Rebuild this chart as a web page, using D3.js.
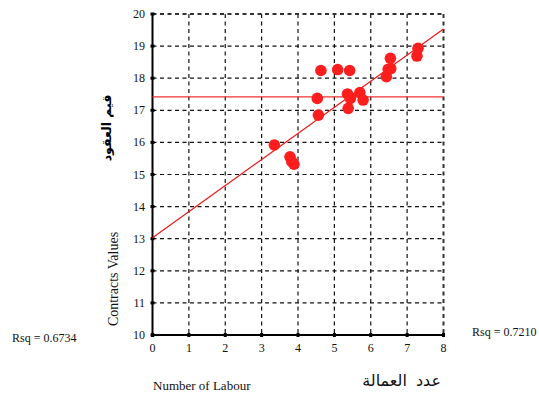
<!DOCTYPE html>
<html>
<head>
<meta charset="utf-8">
<script src="https://cdn.jsdelivr.net/npm/d3@7"></script>
<style>
  html, body { margin: 0; padding: 0; background: #fff; }
  svg { display: block; }
</style>
</head>
<body>
<svg id="chart" width="539" height="399"></svg>
<script>
// Observations: number of labour vs contract values
const labour = [3.35, 3.78, 3.83, 3.89, 4.53, 4.56, 4.63, 5.09, 5.42, 5.36, 5.44, 5.38, 5.70, 5.79, 6.43, 6.48, 6.55, 6.54, 7.30, 7.27];
const contracts = [15.92, 15.55, 15.40, 15.32, 17.37, 16.85, 18.24, 18.27, 18.24, 17.51, 17.37, 17.06, 17.55, 17.32, 18.05, 18.28, 18.30, 18.62, 18.93, 18.69];

// Fitted line and mean reference line
const fitIntercept = 13.03;
const fitSlope = 0.8125;
const meanContracts = 17.42;

// Axis ticks
const xTicks = [0, 1, 2, 3, 4, 5, 6, 7, 8];
const yTicks = [10, 11, 12, 13, 14, 15, 16, 17, 18, 19, 20];

const svg = d3.select("#chart");
const x = d3.scaleLinear().domain([0, 8]).range([152.5, 443.5]);
const y = d3.scaleLinear().domain([10, 20]).range([335, 14]);

const serif = "'Liberation Serif', 'Times New Roman', serif";

// Dashed grid
const grid = svg.append("g");
grid.selectAll(".vg").data(xTicks.slice(1)).join("line")
  .attr("x1", d => x(d)).attr("x2", d => x(d))
  .attr("y1", y(20)).attr("y2", y(10))
  .attr("stroke", d => d === 8 ? "#333" : "#111")
  .attr("stroke-width", d => d === 8 ? 2 : 1.2)
  .attr("stroke-dasharray", "4,3.5");
grid.selectAll(".hg").data(yTicks.slice(1)).join("line")
  .attr("x1", x(0)).attr("x2", x(8))
  .attr("y1", d => y(d)).attr("y2", d => y(d))
  .attr("stroke", d => d === 20 ? "#333" : "#111")
  .attr("stroke-width", d => d === 20 ? 2 : 1.2)
  .attr("stroke-dasharray", "4,3.5");

// Solid left and bottom axes
svg.append("line").attr("x1", x(0)).attr("x2", x(0)).attr("y1", y(20)).attr("y2", y(10))
  .attr("stroke", "#000").attr("stroke-width", 2);
svg.append("line").attr("x1", x(0)).attr("x2", x(8)).attr("y1", y(10)).attr("y2", y(10))
  .attr("stroke", "#000").attr("stroke-width", 2);

// Tick marks
svg.selectAll(".ytm").data(yTicks).join("rect")
  .attr("x", x(0) - 2).attr("y", d => y(d) - 1.5).attr("width", 4).attr("height", 3).attr("fill", "#000");
svg.selectAll(".xtm").data(xTicks).join("rect")
  .attr("x", d => x(d) - 1.5).attr("y", y(10) - 2).attr("width", 3).attr("height", 4).attr("fill", "#000");

// Tick labels
svg.selectAll(".ytl").data(yTicks).join("text")
  .attr("x", 145).attr("y", d => y(d) + 4)
  .attr("text-anchor", "end").attr("font-family", serif).attr("font-size", 12)
  .attr("fill", "#111").text(d => d);
svg.selectAll(".xtl").data(xTicks).join("text")
  .attr("x", d => x(d)).attr("y", 352)
  .attr("text-anchor", "middle").attr("font-family", serif).attr("font-size", 12)
  .attr("fill", "#111").text(d => d);

// Mean line
svg.append("line").attr("x1", x(0)).attr("x2", x(8))
  .attr("y1", y(meanContracts)).attr("y2", y(meanContracts))
  .attr("stroke", "#f03030").attr("stroke-width", 1.3);

// Regression line
svg.append("line")
  .attr("x1", x(0)).attr("y1", y(fitIntercept))
  .attr("x2", x(8)).attr("y2", y(fitIntercept + fitSlope * 8))
  .attr("stroke", "#f01818").attr("stroke-width", 1.2);

// Points
svg.selectAll(".pt").data(labour.map((d, i) => [d, contracts[i]])).join("circle")
  .attr("cx", d => x(d[0])).attr("cy", d => y(d[1])).attr("r", 5.8)
  .attr("fill", "#ff1e1e");

// Axis titles
svg.append("text")
  .attr("transform", "translate(111,128) rotate(-90)")
  .attr("text-anchor", "middle").attr("font-family", "'DejaVu Sans', sans-serif")
  .attr("font-weight", "bold").attr("font-size", 12.5).attr("fill", "#000")
  .text("قيم العقود");
svg.append("text")
  .attr("transform", "translate(118,279) rotate(-90)")
  .attr("text-anchor", "middle").attr("font-family", serif)
  .attr("font-size", 14).attr("fill", "#111")
  .text("Contracts Values");
svg.append("text")
  .attr("x", 153).attr("y", 390).attr("font-family", serif).attr("font-size", 13)
  .attr("fill", "#111").text("Number of Labour");
svg.append("text")
  .attr("x", 441).attr("y", 386).attr("text-anchor", "end")
  .attr("font-family", "'DejaVu Sans', sans-serif").attr("font-size", 16)
  .attr("word-spacing", 4).attr("fill", "#111")
  .text("عدد العمالة");

// R-squared annotations
svg.append("text").attr("x", 12).attr("y", 342).attr("font-family", serif).attr("font-size", 12)
  .attr("fill", "#111").text("Rsq = 0.6734");
svg.append("text").attr("x", 472).attr("y", 336).attr("font-family", serif).attr("font-size", 12)
  .attr("fill", "#111").text("Rsq = 0.7210");
</script>
</body>
</html>
